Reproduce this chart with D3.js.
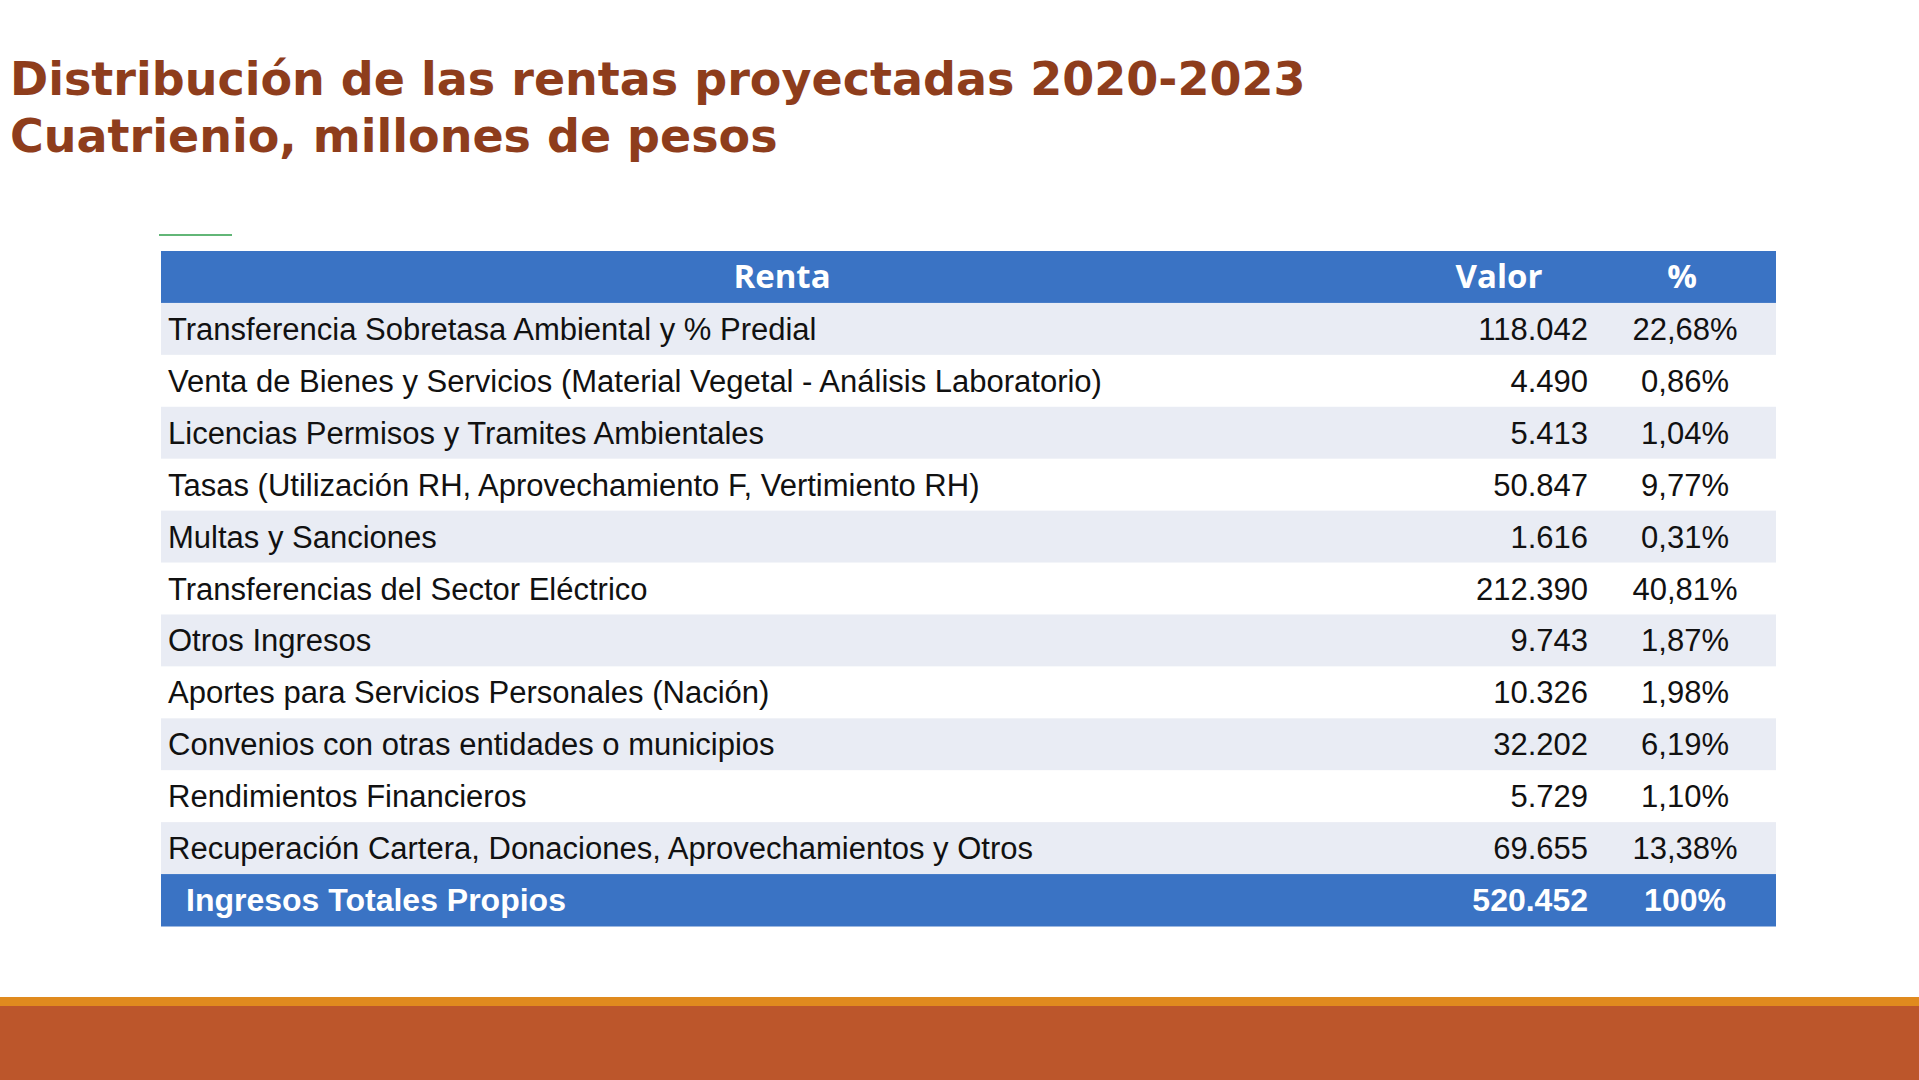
<!DOCTYPE html>
<html><head><meta charset="utf-8">
<script src="https://cdn.jsdelivr.net/npm/d3@7"></script>
<style>body{margin:0;background:#fff}svg{display:block}</style>
</head><body>
<script>
const titleLines = ["Distribución de las rentas proyectadas 2020-2023", "Cuatrienio, millones de pesos"];
const headers = ["Renta", "Valor", "%"];
const categories = [
 "Transferencia Sobretasa Ambiental y % Predial",
 "Venta de Bienes y Servicios (Material Vegetal - Análisis Laboratorio)",
 "Licencias Permisos y Tramites Ambientales",
 "Tasas (Utilización RH, Aprovechamiento F, Vertimiento RH)",
 "Multas y Sanciones",
 "Transferencias del Sector Eléctrico",
 "Otros Ingresos",
 "Aportes para Servicios Personales (Nación)",
 "Convenios con otras entidades o municipios",
 "Rendimientos Financieros",
 "Recuperación Cartera, Donaciones, Aprovechamientos y Otros"
];
const values = [118042, 4490, 5413, 50847, 1616, 212390, 9743, 10326, 32202, 5729, 69655];
const percents = [22.68, 0.86, 1.04, 9.77, 0.31, 40.81, 1.87, 1.98, 6.19, 1.10, 13.38];
const totalLabel = "Ingresos Totales Propios";
const totalValue = 520452;
const totalPercent = "100%";

const W = 1919, H = 1080;
const svg = d3.select("body").append("svg").attr("width", W).attr("height", H);
const fmt = v => d3.format(",")(v).replace(/,/g, ".");
const fmtP = p => p.toFixed(2).replace(".", ",") + "%";

svg.selectAll("text.title").data(titleLines).join("text")
  .attr("x", 10).attr("y", (d, i) => 95 + i * 57)
  .attr("font-family", "DejaVu Sans").attr("font-weight", "bold").attr("font-size", 46)
  .attr("fill", "#8E3D1C").text(d => d);

svg.append("line").attr("x1", 159).attr("x2", 232).attr("y1", 235).attr("y2", 235)
  .attr("stroke", "#2E9E4A").attr("stroke-width", 1.5);

const rowKeys = ["header", ...categories.map((c, i) => "r" + i), "total"];
const y = d3.scaleBand().domain(rowKeys).range([251, 926]);
const x0 = 161, x1 = 1776;
const font = "Liberation Sans, Arial, sans-serif";

svg.selectAll("rect.row").data(rowKeys).join("rect")
  .attr("x", x0).attr("width", x1 - x0).attr("y", d => y(d)).attr("height", y.bandwidth() + 0.5)
  .attr("fill", (d, i) => (d === "header" || d === "total") ? "#3A73C4" : (i % 2 === 1 ? "#E9ECF4" : "#FFFFFF"));

const tY = k => y(k) + y.bandwidth() / 2 + 11;
const hx = [782, 1499, 1682];
svg.selectAll("text.h").data(headers).join("text")
  .attr("x", (d, i) => hx[i]).attr("y", tY("header")).attr("text-anchor", "middle")
  .attr("font-family", "Open Sans, sans-serif").attr("font-weight", "bold").attr("font-size", 33)
  .attr("fill", "#fff").text(d => d);

const rows = categories.map((c, i) => ({k: "r" + i, c, v: values[i], p: percents[i]}));
const g = svg.append("g").attr("font-family", font).attr("font-size", 31).attr("fill", "#111");
g.selectAll("text.c").data(rows).join("text").attr("x", 168).attr("y", d => tY(d.k)).text(d => d.c);
g.selectAll("text.v").data(rows).join("text").attr("x", 1588).attr("y", d => tY(d.k)).attr("text-anchor", "end").text(d => fmt(d.v));
g.selectAll("text.p").data(rows).join("text").attr("x", 1685).attr("y", d => tY(d.k)).attr("text-anchor", "middle").text(d => fmtP(d.p));

const t = svg.append("g").attr("font-family", font).attr("font-size", 32).attr("font-weight", "bold").attr("fill", "#fff");
t.append("text").attr("x", 186).attr("y", tY("total")).text(totalLabel);
t.append("text").attr("x", 1588).attr("y", tY("total")).attr("text-anchor", "end").text(fmt(totalValue));
t.append("text").attr("x", 1685).attr("y", tY("total")).attr("text-anchor", "middle").text(totalPercent);

svg.append("rect").attr("x", 0).attr("width", W).attr("y", 997).attr("height", 9).attr("fill", "#E08A1E");
svg.append("rect").attr("x", 0).attr("width", W).attr("y", 1006).attr("height", 74).attr("fill", "#BC562B");
</script>
</body></html>
